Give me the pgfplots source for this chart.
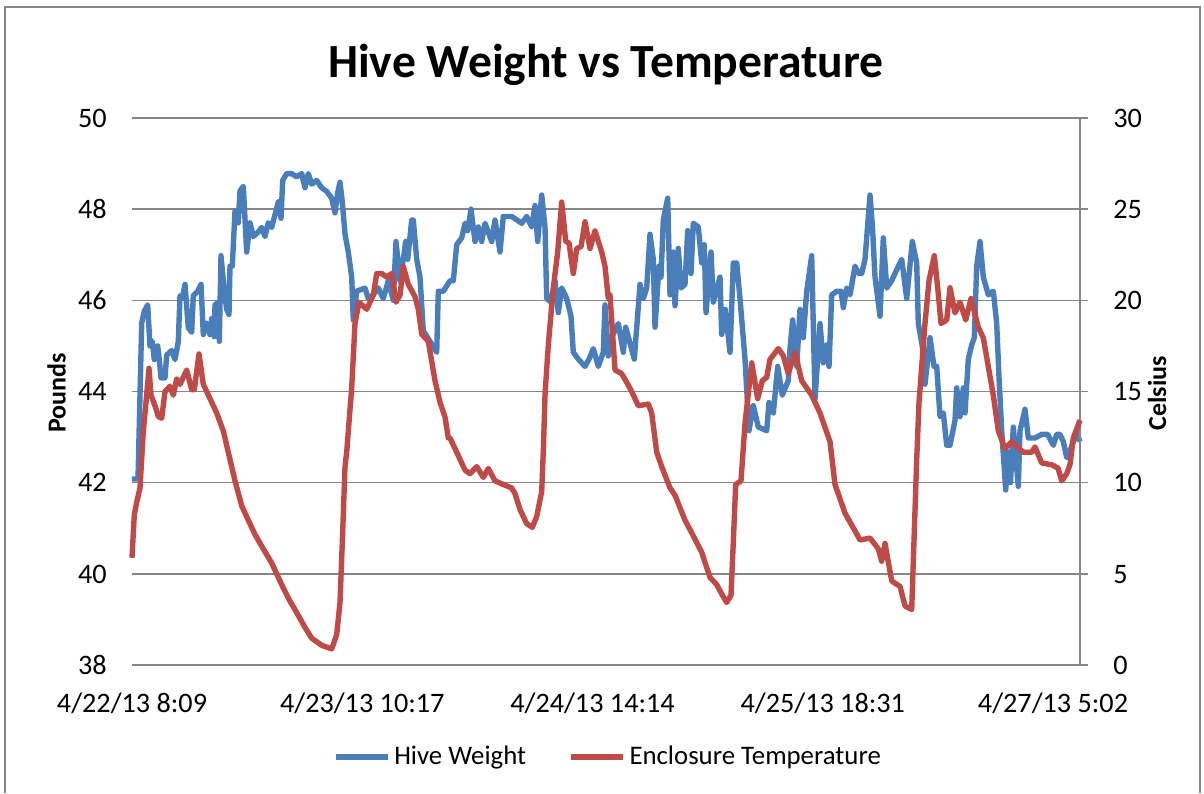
\documentclass[border=0pt]{standalone}
\usepackage{pgfplots}
\pgfplotsset{compat=1.18}
\usepackage{fontspec}
\setmainfont{Carlito}

\definecolor{hiveblue}{RGB}{74,126,187}
\definecolor{tempred}{RGB}{190,75,72}
\definecolor{gridgray}{RGB}{134,134,134}

% x values are pixel columns of the original chart (132 = first category)
\pgfplotsset{
  chartbase/.style={
    scale only axis, width=474pt, height=273.5pt,
    at={(0,0)}, anchor=south west,
    xmin=132, xmax=1080, clip=false,
    tick label style={font=\fontsize{14.1}{17}\selectfont, inner sep=0pt},
    label style={font=\fontsize{13}{16}\selectfont\bfseries},
    /pgf/number format/assume math mode=true,
  },
}

\begin{document}
\begin{tikzpicture}
\useasboundingbox (-66pt,-64pt) rectangle (536pt,332.5pt);
\draw[gridgray, line width=0.7pt] (-63.5pt,-64pt) -- (-63.5pt,329pt) -- (534pt,329pt) -- (534pt,-64pt);

\begin{axis}[chartbase,
  ymin=38, ymax=50, ytick={38,40,...,50},
  axis x line*=bottom, axis y line*=left,
  x axis line style={draw=gridgray, line width=0.7pt, -},
  y axis line style={draw=none},
  xtick style={draw=none}, ytick style={draw=none},
  ymajorgrids, grid style={gridgray, line width=0.7pt},
  xtick={132,362.25,592.5,822.75,1053},
  xticklabels={4/22/13 8:09, 4/23/13 10:17, 4/24/13 14:14, 4/25/13 18:31, 4/27/13 5:02},
  xticklabel style={anchor=base, yshift=-23.5pt},
  yticklabel style={anchor=base east, xshift=-12.5pt, yshift=-4.6pt},
  title={Hive Weight vs Temperature},
  title style={at={(rel axis cs:0.5,1.075)}, anchor=center, yshift=0pt, font=\fontsize{23.8}{28}\selectfont\bfseries},
  ylabel={Pounds},
  ylabel style={at={(rel axis cs:-0.0795,0.497)}, anchor=center},
]
\addplot[hiveblue, line width=2.7pt, line join=round] coordinates {
(132,42.08)(138,42.08)(141.7,45.5)(144.3,45.76)(147.7,45.9)(150,45.0)(152.3,45.1)(154.3,44.7)(157.7,45.0)(159.3,44.7)(161,44.3)(165,44.3)(166.7,44.8)(171.7,44.9)(175,44.7)(176.7,44.9)(178.3,45.1)(180,46.1)(182.3,46.05)(185,46.35)(188.3,45.4)(191.7,45.3)(193.3,46.1)(197.7,46.2)(201,46.35)(203.3,45.25)(206.7,45.5)(210,45.25)(211.7,45.6)(214.3,45.2)(215,45.9)(217.7,45.95)(219.3,45.1)(221,46.98)(223.7,46.35)(226.7,45.8)(229,45.69)(230,46.75)(232.3,46.75)(235,47.96)(238.3,47.7)(240,48.4)(243.3,48.5)(246.7,47.06)(250,47.7)(253.3,47.4)(258.3,47.5)(261.7,47.6)(265,47.4)(268.3,47.7)(271.7,47.6)(278.3,48.16)(281,47.8)(282.7,48.63)(286.7,48.78)
(291.7,48.78)(296.7,48.71)(301.7,48.78)(305,48.47)(308.3,48.78)(311.7,48.55)(316.7,48.63)(321.7,48.47)(326.7,48.39)(331.7,48.24)(335,47.92)(338,48.4)(340,48.59)(342.3,48.16)(345,47.45)(348.3,47.06)(351.7,46.51)(353.3,45.57)(356.7,46.2)(365,46.27)(368.3,46.04)(373.3,46.12)(378.3,46.27)(383.3,46.04)(388.3,46.43)(393.3,46.0)(396,47.29)(400,46.43)(403.3,46.9)(405.7,47.29)(407.7,46.9)(411.7,47.76)(413.3,47.76)(416.7,46.9)(420,46.51)(423.3,45.33)(430,45.1)(436.7,44.86)(438.3,46.2)(443.3,46.2)(450,46.43)
(453.3,46.43)(456.7,47.22)(461.7,47.37)(465,47.69)(467.7,47.53)(471,48.0)(475,47.29)(478.3,47.61)(481.7,47.29)(485,47.69)(491.7,47.29)(495,47.76)(500,47.06)(503.3,47.84)(511.7,47.84)(521.7,47.69)(526.7,47.84)(531.7,47.61)(535,48.08)(537.7,47.29)(541.7,48.31)(545,47.61)(546.7,46.04)(551,45.96)(555,46.43)(558.3,45.73)(561.7,46.27)(566.7,46.04)(571,45.65)(573.3,44.86)(578.3,44.71)(585,44.55)(589,44.71)(593.3,44.94)(598.3,44.55)(603.3,44.86)(605,45.9)
(608.3,44.78)(612,45.2)(618.3,45.49)(623.3,44.86)(625.7,45.41)(630,45.06)(634.3,44.71)(640,46.35)(643.3,46.04)(646.7,46.27)(650,47.45)(653.3,46.9)(655,45.41)(659,46.75)(661,46.51)(663.3,47.76)(667.7,48.24)(670,46.12)(673.3,47.06)(675,45.88)(678.3,47.14)(681,46.27)(685,46.35)(687.7,47.53)(691,46.59)(693.3,47.69)(698.3,47.61)(701.7,46.82)(704.3,47.22)(706,45.73)(711,47.06)(713.3,45.96)(720,46.51)(721.7,45.25)(725.3,45.8)(730,44.86)(733.3,46.82)(736.7,46.82)(740,46.04)(745,44.71)(749,43.14)(753.3,43.69)(758.3,43.22)(766.7,43.14)
(769,43.76)(773.3,43.53)(777.7,44.55)(782.3,43.92)(788.3,44.24)(790,44.94)(792.7,45.57)(796.7,44.55)(800,45.8)(803.3,45.18)(806.7,46.2)(811.7,46.98)(815,43.84)(820,45.49)(823.3,44.63)(826.7,45.02)(829,44.55)(831.7,46.12)(836.7,46.2)(841,46.2)(843.3,45.84)(846.7,46.27)(850,46.12)(855,46.75)(858.3,46.59)(861.7,46.59)(865,46.9)(870,48.31)(872.5,47.6)(875,46.51)(880,45.65)(883.3,47.37)(886.7,46.27)(891.7,46.43)(896.7,46.67)(901.7,46.9)(906.7,46.04)(912.3,47.29)(916.7,46.82)(918.3,45.49)(923.3,44.86)
(925,44.16)(930,45.18)(934,44.55)(936.7,44.55)(940,43.45)(943.3,43.53)(946.7,42.82)(950,42.82)(955,43.37)(956.7,44.08)(960,43.45)(963.3,44.08)(965,43.53)(968.3,44.71)(971.7,45.02)(974.3,45.18)(976.7,46.75)(980,47.29)(983.3,46.51)(988.3,46.12)(993.3,46.2)(996.7,45.49)(999,44.31)(1001.7,43.14)(1005.7,41.84)(1008.3,42.67)(1010.5,42.0)(1013.3,43.22)(1016,42.5)(1018.3,41.92)(1020,43.14)(1025,43.61)(1028.3,42.98)(1035,42.98)(1041.7,43.06)(1047.7,43.06)(1053.3,42.82)(1056.7,43.06)(1060,43.06)(1063.3,42.9)(1066.7,42.55)(1070,42.7)(1073.3,42.9)(1076.7,43.1)(1080,42.9)
};
\end{axis}

\begin{axis}[chartbase,
  ymin=0, ymax=30, ytick={0,5,...,30},
  axis y line*=right, axis x line=none,
  y axis line style={draw=gridgray, line width=0.7pt, -},
  ytick style={draw=gridgray, line width=0.7pt},
  tick align=outside, major tick length=4pt,
  yticklabel style={anchor=base west, xshift=12.5pt, yshift=-4.6pt},
  ylabel={Celsius},
  ylabel style={at={(rel axis cs:1.0812,0.497)}, anchor=center},
  legend style={at={(0.503,-0.168)}, anchor=center, draw=none, fill=none,
    legend columns=2, font=\fontsize{13.4}{16}\selectfont,
    /tikz/every even column/.append style={column sep=19pt}},
  legend image code/.code={\draw[#1] (0pt,0pt) -- (26pt,0pt);},
]
\addlegendimage{hiveblue, line width=2.7pt}
\addlegendentry{Hive Weight}
\addplot[tempred, line width=2.7pt, line join=round] coordinates {
(132,5.88)(134.3,8.24)(136.7,8.92)(140,9.71)(143.3,12.84)(145.7,14.22)(149,16.27)(151,14.8)(155,14.22)(158.3,13.63)(161.7,13.53)(165,15.0)(170,15.29)(173.3,14.8)(176.7,15.69)(180,15.39)(186.7,16.18)(191.7,15.1)(194.3,15.1)(199,17.06)(203.3,15.39)(206.7,15.0)(211.7,14.41)(216.7,13.82)(223.3,12.84)(228.3,11.67)(235,10.1)(241.7,8.73)(248.3,7.94)(255,7.16)(263.3,6.37)(271.7,5.59)(276.7,5.0)(283.3,4.22)(290,3.5)(295,3.04)
(305,2.06)(311.7,1.47)(321.7,1.08)(331.7,0.88)(336.7,1.67)(340,3.43)(342.5,7)(345,10.88)(346.7,11.67)(350,14.02)(351.7,15.2)(355,18.73)(359,19.9)(366.7,19.51)(371.7,20.1)(373.3,20.29)(376.7,21.47)(381.7,21.47)(386.7,21.27)(391.7,21.47)(396,19.9)(400,20.29)(403.3,21.86)(408.3,20.88)(415,20.2)(418.3,19.51)(421.7,18.14)(428.3,17.75)(435,15.59)(440,14.41)(445,13.6)(448.3,12.45)
(450,12.45)(456.7,11.67)(465,10.69)(470,10.49)(476.7,10.88)(483.3,10.29)(488.3,10.78)(495,10.1)(503.3,9.9)(511.7,9.71)(515,9.4)(520,8.53)(526.7,7.75)(532.3,7.55)(536.7,8.14)(541.7,9.51)(543.5,12)(545,14.8)(548.3,17.55)(553.3,20.69)(557.7,22.65)(561.7,25.39)(565.7,23.24)(569,23.14)(573.3,21.47)(576.7,22.84)(581,22.94)(585,24.31)(590,22.84)(595,23.82)(601.7,22.65)(605,21.86)(608.3,20.1)
(610,20.29)(615,16.18)(621.7,15.98)(626.7,15.5)(631.7,15.0)(638.3,14.22)(648.3,14.31)(651.7,13.82)(656.7,11.67)(661.7,10.88)(670,9.71)(675,9.31)(685,7.94)(691.7,7.25)(701.7,6.18)(710,4.8)(716.7,4.41)(721.7,3.9)(726.7,3.43)(731,3.82)(733.5,7)(735.7,9.9)(741,10.1)(745,13.24)(751.7,16.57)(757.7,14.61)(762.3,15.59)(766.7,15.78)
(770,16.76)(778.3,17.35)(783.3,16.96)(788.3,15.98)(795,17.16)(801.7,15.59)(811.7,14.8)(820,13.82)(830,12.25)(835,9.9)(845,8.33)(855,7.35)(860,6.86)(870,6.96)(878.3,6.37)(881.7,5.69)(885,6.67)(891.7,4.61)(900,4.31)(905,3.24)(911.7,3.04)(916.7,11.27)(919,14.41)(925,18.73)(929,21.08)
(934.3,22.45)(937.7,20.69)(941,18.73)(946.7,18.92)(950,20.69)(955,19.31)(960,19.9)(965.7,18.92)(971,20.1)(978.3,18.53)(983.3,17.94)(988.3,16.37)(993.3,14.8)(998.3,12.84)(1005,11.86)(1011.7,12.25)(1023.3,11.67)(1031.7,11.67)(1035,11.96)(1041.7,11.08)(1051.7,10.98)(1058,10.8)(1061.7,10.1)(1066.7,10.49)(1070,11)(1073.3,12.45)(1080,13.43)
};
\addlegendentry{Enclosure Temperature}
\end{axis}
\end{tikzpicture}
\end{document}
